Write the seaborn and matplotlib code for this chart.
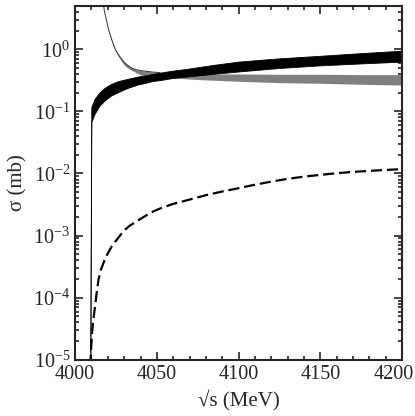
import numpy as np
import pandas as pd
import matplotlib
matplotlib.use("Agg")
import matplotlib.pyplot as plt
import matplotlib.transforms as mtransforms
import seaborn as sns

# values (sqrt(s) in MeV, sigma in mb)
black_x = [4009.3, 4010.2, 4012.2, 4015.3, 4018.3, 4022.4, 4026.5, 4032.6, 4038.7, 4042.8,
           4047, 4053, 4059, 4070, 4085, 4100, 4125, 4150, 4175, 4200]
black_hi = [1e-7, 0.115, 0.156, 0.20, 0.234, 0.272, 0.301, 0.328, 0.357, 0.371,
            0.39, 0.415, 0.44, 0.48, 0.55, 0.62, 0.70, 0.77, 0.85, 0.93]
black_lo = [1e-7, 0.066, 0.0895, 0.122, 0.147, 0.177, 0.20, 0.235, 0.266, 0.28,
            0.30, 0.315, 0.335, 0.36, 0.395, 0.43, 0.49, 0.54, 0.58, 0.62]

gray_x = [4016, 4018, 4020.4, 4022.5, 4024.5, 4026.5, 4028.5, 4030.5, 4032.6, 4035, 4038,
          4041, 4044, 4047, 4052, 4060, 4075, 4100, 4125, 4150, 4175, 4200]
gray_hi = [9.0, 4.0, 2.1, 1.4, 1.0, 0.82, 0.69, 0.60, 0.54, 0.49, 0.465,
           0.45, 0.44, 0.43, 0.42, 0.41, 0.40, 0.40, 0.395, 0.395, 0.39, 0.39]
gray_lo = [9.0, 4.0, 2.05, 1.35, 0.95, 0.76, 0.63, 0.54, 0.49, 0.45, 0.41,
           0.38, 0.37, 0.365, 0.355, 0.345, 0.325, 0.305, 0.29, 0.283, 0.273, 0.265]

dash_x = [4009.2, 4010.2, 4011, 4012.2, 4013, 4014.3, 4015.5, 4017.3, 4019.5, 4022.4, 4025.5,
          4029.5, 4033, 4037.7, 4042, 4047.9, 4053, 4060, 4070, 4080, 4090, 4100, 4110,
          4120, 4130, 4140, 4150, 4160, 4170, 4180, 4190, 4200]
dash_y = [8e-6, 2.4e-5, 4.2e-5, 7.2e-5, 1.1e-4, 1.95e-4, 2.7e-4, 3.6e-4, 4.9e-4, 6.7e-4, 8.6e-4,
          1.17e-3, 1.42e-3, 1.7e-3, 2.0e-3, 2.46e-3, 2.8e-3, 3.24e-3, 3.8e-3, 4.47e-3, 5.13e-3,
          5.8e-3, 6.6e-3, 7.4e-3, 8.2e-3, 8.9e-3, 9.5e-3, 1.01e-2, 1.06e-2, 1.10e-2, 1.14e-2,
          1.175e-2]

x_ticks = [4000, 4050, 4100, 4150, 4200]

sns.set_style("ticks")
plt.rcParams['font.family'] = ['Liberation Serif', 'DejaVu Serif']
plt.rcParams['mathtext.fontset'] = 'stix'
plt.rcParams['font.size'] = 15

fig = plt.figure(figsize=(4.15, 4.16), dpi=100)
ax = fig.add_axes([0.181, 0.135, 0.788, 0.851])

gray = pd.DataFrame({'x': gray_x, 'hi': gray_hi, 'lo': gray_lo})
black = pd.DataFrame({'x': black_x, 'hi': black_hi, 'lo': black_lo})
dash = pd.DataFrame({'x': dash_x, 'y': dash_y})

# gray band, with its thin upper edge visible near threshold
ax.fill_between(gray['x'], gray['lo'], gray['hi'], color='#808080', lw=0)
near = gray[gray['x'] < 4055]
sns.lineplot(data=near, x='x', y='hi', ax=ax, color='#333333', lw=0.7)

# black band
ax.fill_between(black['x'], black['lo'], black['hi'], color='black', lw=0)
sns.lineplot(data=black, x='x', y='hi', ax=ax, color='black', lw=0.6)
sns.lineplot(data=black, x='x', y='lo', ax=ax, color='black', lw=0.6)

# dashed curve
sns.lineplot(data=dash, x='x', y='y', ax=ax, color='black', lw=1.6,
             dashes=False, linestyle=(0, (5, 2.2)))

ax.set_yscale('log')
ax.set_xlim(4000, 4200)
ax.set_ylim(1e-5, 5)
ax.set_xticks(x_ticks)
ax.xaxis.set_minor_locator(matplotlib.ticker.MultipleLocator(10))
ax.yaxis.set_minor_locator(matplotlib.ticker.LogLocator(base=10, subs=np.arange(2, 10), numticks=20))
ax.yaxis.set_minor_formatter(matplotlib.ticker.NullFormatter())

ax.tick_params(which='both', direction='in', top=True, right=True, width=1.2, labelsize=14.5)
ax.tick_params(which='major', length=6)
ax.tick_params(which='minor', length=3)
for s in ax.spines.values():
    s.set_linewidth(1.5)

# last x label sits a bit left so it stays inside the figure
last = ax.get_xticklabels()[-1]
last.set_transform(last.get_transform() + mtransforms.ScaledTranslation(-0.08, 0, fig.dpi_scale_trans))

ax.set_xlabel('√s (MeV)', fontsize=15, labelpad=4)
ax.set_ylabel('σ (mb)', fontsize=15, labelpad=4)

fig.savefig('out.png', dpi=100)
